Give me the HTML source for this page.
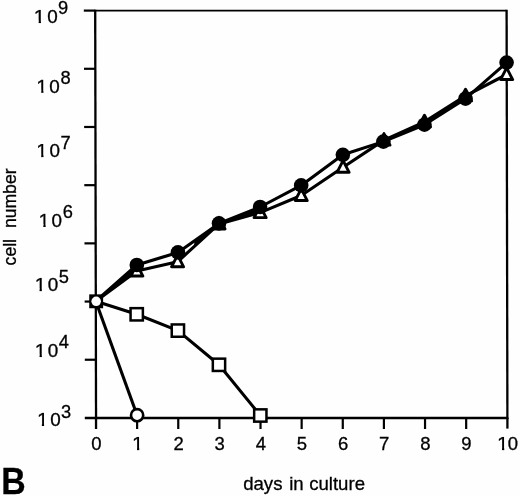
<!DOCTYPE html>
<html><head><meta charset="utf-8"><title>B</title>
<style>html,body{margin:0;padding:0;background:#fff;}body{width:520px;height:496px;overflow:hidden;}svg{display:block;filter:grayscale(1) blur(0.35px);}text{font-family:"Liberation Sans",sans-serif;fill:#000;stroke:#000;stroke-width:0.3px;}</style>
</head><body>
<svg width="520" height="496" viewBox="0 0 520 496">
<rect x="0" y="0" width="520" height="496" fill="#fefefe"/>
<g stroke="#000" fill="none" stroke-linecap="butt">
<path d="M95.2 10.6 H506.6" stroke-width="1.9"/>
<path d="M506.6 9.65 L507.4 419.1" stroke-width="2.3"/>
<path d="M95.2 9.65 L96.05 429" stroke-width="2.3"/>
<path d="M84.8 418 H508.2" stroke-width="2.3"/>
<path d="M83.80 10.60 H95.19" stroke-width="2.2"/>
<path d="M83.97 68.79 H95.30" stroke-width="2.2"/>
<path d="M84.13 126.98 H95.42" stroke-width="2.2"/>
<path d="M84.30 185.17 H95.53" stroke-width="2.2"/>
<path d="M84.47 243.36 H95.65" stroke-width="2.2"/>
<path d="M84.63 301.55 H95.77" stroke-width="2.2"/>
<path d="M84.80 359.74 H95.88" stroke-width="2.2"/>
<path d="M137.13 418 V429" stroke-width="2.2"/>
<path d="M178.26 418 V429" stroke-width="2.2"/>
<path d="M219.39 418 V429" stroke-width="2.2"/>
<path d="M260.52 418 V429" stroke-width="2.2"/>
<path d="M301.65 418 V429" stroke-width="2.2"/>
<path d="M342.78 418 V429" stroke-width="2.2"/>
<path d="M383.91 418 V429" stroke-width="2.2"/>
<path d="M425.04 418 V429" stroke-width="2.2"/>
<path d="M466.17 418 V429" stroke-width="2.2"/>
<path d="M507.4 418 V428.6" stroke-width="2.3"/>
</g>
<polyline points="95.77,301.20 136.72,314.30 177.89,330.60 218.98,364.80 260.31,415.50" fill="none" stroke="#000" stroke-width="3.1" stroke-linejoin="round"/>
<polyline points="95.77,301.20 137.12,415.20" fill="none" stroke="#000" stroke-width="3.1" stroke-linejoin="round"/>
<polyline points="95.77,301.20 136.85,271.00 177.56,261.75 219.01,223.90 260.12,212.60 301.22,195.50 343.09,167.25 383.97,140.10 424.46,121.80 465.54,95.80 506.63,74.50" fill="none" stroke="#000" stroke-width="3.1" stroke-linejoin="round"/>
<polyline points="95.77,301.20 136.82,265.00 177.93,252.40 219.00,223.40 260.10,207.00 301.18,185.40 342.85,154.80 383.36,141.60 424.45,124.70 465.53,98.60 506.59,62.60" fill="none" stroke="#000" stroke-width="3.1" stroke-linejoin="round"/>
<polygon points="96.00,301.20 136.82,265.00 136.85,271.00" fill="#000"/>
<polygon points="219.00,223.40 260.10,207.00 260.12,212.60 219.01,223.90" fill="#000"/>
<polygon points="383.36,141.60 424.45,124.70 424.46,121.80 383.97,140.10" fill="#000"/>
<polygon points="424.45,124.70 465.53,98.60 465.54,95.80 424.46,121.80" fill="#000"/>
<polygon points="194.36,240.80 219.00,223.40 219.01,223.90 194.14,246.61" fill="#000"/>
<rect x="89.22" y="294.35" width="13.9" height="13.9" fill="#000"/>
<rect x="130.57" y="308.15" width="12.3" height="12.3" fill="#fff" stroke="#000" stroke-width="2.5"/>
<rect x="171.74" y="324.45" width="12.3" height="12.3" fill="#fff" stroke="#000" stroke-width="2.5"/>
<rect x="212.83" y="358.65" width="12.3" height="12.3" fill="#fff" stroke="#000" stroke-width="2.5"/>
<rect x="254.16" y="409.35" width="12.3" height="12.3" fill="#fff" stroke="#000" stroke-width="2.5"/>
<path d="M136.85 264.45 L142.90 276.05 L130.80 276.05 Z" fill="#fff" stroke="#000" stroke-width="2.9" stroke-linejoin="round"/>
<path d="M177.56 255.20 L183.61 266.80 L171.51 266.80 Z" fill="#fff" stroke="#000" stroke-width="2.9" stroke-linejoin="round"/>
<path d="M219.01 217.35 L225.06 228.95 L212.96 228.95 Z" fill="#fff" stroke="#000" stroke-width="2.9" stroke-linejoin="round"/>
<path d="M260.12 206.05 L266.17 217.65 L254.07 217.65 Z" fill="#fff" stroke="#000" stroke-width="2.9" stroke-linejoin="round"/>
<path d="M301.22 188.95 L307.27 200.55 L295.17 200.55 Z" fill="#fff" stroke="#000" stroke-width="2.9" stroke-linejoin="round"/>
<path d="M343.09 160.70 L349.14 172.30 L337.04 172.30 Z" fill="#fff" stroke="#000" stroke-width="2.9" stroke-linejoin="round"/>
<path d="M383.97 133.55 L390.02 145.15 L377.92 145.15 Z" fill="#fff" stroke="#000" stroke-width="2.9" stroke-linejoin="round"/>
<path d="M424.46 115.25 L430.51 126.85 L418.41 126.85 Z" fill="#fff" stroke="#000" stroke-width="2.9" stroke-linejoin="round"/>
<path d="M465.54 89.25 L471.59 100.85 L459.49 100.85 Z" fill="#fff" stroke="#000" stroke-width="2.9" stroke-linejoin="round"/>
<path d="M506.63 67.95 L512.68 79.55 L500.58 79.55 Z" fill="#fff" stroke="#000" stroke-width="2.9" stroke-linejoin="round"/>
<circle cx="136.82" cy="265.00" r="7.3" fill="#000"/>
<circle cx="177.93" cy="252.40" r="7.3" fill="#000"/>
<circle cx="219.00" cy="223.40" r="7.3" fill="#000"/>
<circle cx="260.10" cy="207.00" r="7.3" fill="#000"/>
<circle cx="301.18" cy="185.40" r="7.3" fill="#000"/>
<circle cx="342.85" cy="154.80" r="7.3" fill="#000"/>
<circle cx="383.36" cy="141.60" r="7.3" fill="#000"/>
<circle cx="424.45" cy="124.70" r="7.3" fill="#000"/>
<circle cx="465.53" cy="98.60" r="7.3" fill="#000"/>
<circle cx="506.59" cy="62.60" r="7.3" fill="#000"/>
<circle cx="96.17" cy="301.30" r="4.75" fill="#fff"/>
<circle cx="137.12" cy="415.20" r="6.1" fill="#fff" stroke="#000" stroke-width="2.6"/>
<clipPath id="c66"><polygon points="0.89,-13.40 6.43,-13.40 6.43,0.27 4.44,0.27 4.44,-2.68 0.89,-2.68"/></clipPath>
<g transform="translate(33.74 23.10) scale(1.12 1)" clip-path="url(#c66)"><text x="0" y="0" font-size="18.3">1</text></g>
<text transform="translate(47.26 23.10) scale(1.03 1)" font-size="18.3">0</text>
<text x="57.99" y="13.70" font-size="18.3">9</text>
<clipPath id="c70"><polygon points="0.89,-13.40 6.43,-13.40 6.43,0.27 4.44,0.27 4.44,-2.68 0.89,-2.68"/></clipPath>
<g transform="translate(36.24 92.50) scale(1.12 1)" clip-path="url(#c70)"><text x="0" y="0" font-size="18.3">1</text></g>
<text transform="translate(49.36 92.50) scale(1.03 1)" font-size="18.3">0</text>
<text x="60.55" y="83.70" font-size="18.3">8</text>
<clipPath id="c74"><polygon points="0.89,-13.40 6.43,-13.40 6.43,0.27 4.44,0.27 4.44,-2.68 0.89,-2.68"/></clipPath>
<g transform="translate(36.24 157.30) scale(1.12 1)" clip-path="url(#c74)"><text x="0" y="0" font-size="18.3">1</text></g>
<text transform="translate(49.61 157.30) scale(1.03 1)" font-size="18.3">0</text>
<text x="60.41" y="148.90" font-size="18.3">7</text>
<clipPath id="c78"><polygon points="0.89,-13.40 6.43,-13.40 6.43,0.27 4.44,0.27 4.44,-2.68 0.89,-2.68"/></clipPath>
<g transform="translate(38.39 226.70) scale(1.12 1)" clip-path="url(#c78)"><text x="0" y="0" font-size="18.3">1</text></g>
<text transform="translate(51.61 226.70) scale(1.03 1)" font-size="18.3">0</text>
<text x="62.67" y="218.00" font-size="18.3">6</text>
<clipPath id="c82"><polygon points="0.89,-13.40 6.43,-13.40 6.43,0.27 4.44,0.27 4.44,-2.68 0.89,-2.68"/></clipPath>
<g transform="translate(34.64 291.20) scale(1.12 1)" clip-path="url(#c82)"><text x="0" y="0" font-size="18.3">1</text></g>
<text transform="translate(47.86 291.20) scale(1.03 1)" font-size="18.3">0</text>
<text x="58.77" y="283.30" font-size="18.3">5</text>
<clipPath id="c86"><polygon points="0.89,-13.40 6.43,-13.40 6.43,0.27 4.44,0.27 4.44,-2.68 0.89,-2.68"/></clipPath>
<g transform="translate(34.64 357.10) scale(1.12 1)" clip-path="url(#c86)"><text x="0" y="0" font-size="18.3">1</text></g>
<text transform="translate(47.86 357.10) scale(1.03 1)" font-size="18.3">0</text>
<text x="58.68" y="348.30" font-size="18.3">4</text>
<clipPath id="c90"><polygon points="0.89,-13.40 6.43,-13.40 6.43,0.27 4.44,0.27 4.44,-2.68 0.89,-2.68"/></clipPath>
<g transform="translate(36.89 425.80) scale(1.12 1)" clip-path="url(#c90)"><text x="0" y="0" font-size="18.3">1</text></g>
<text transform="translate(50.36 425.80) scale(1.03 1)" font-size="18.3">0</text>
<text x="60.90" y="417.50" font-size="18.3">3</text>
<text x="96.30" y="450.2" font-size="18.5" text-anchor="middle">0</text>
<clipPath id="c95"><polygon points="0.90,-13.55 6.50,-13.55 6.50,0.27 4.49,0.27 4.49,-2.71 0.90,-2.71"/></clipPath>
<g transform="translate(132.00 450.20) scale(1.12 1)" clip-path="url(#c95)"><text x="0" y="0" font-size="18.5">1</text></g>
<text x="178.56" y="450.2" font-size="18.5" text-anchor="middle">2</text>
<text x="219.69" y="450.2" font-size="18.5" text-anchor="middle">3</text>
<text x="260.82" y="450.2" font-size="18.5" text-anchor="middle">4</text>
<text x="301.95" y="450.2" font-size="18.5" text-anchor="middle">5</text>
<text x="343.08" y="450.2" font-size="18.5" text-anchor="middle">6</text>
<text x="384.21" y="450.2" font-size="18.5" text-anchor="middle">7</text>
<text x="425.34" y="450.2" font-size="18.5" text-anchor="middle">8</text>
<text x="466.47" y="450.2" font-size="18.5" text-anchor="middle">9</text>
<clipPath id="c105"><polygon points="0.90,-13.55 6.50,-13.55 6.50,0.27 4.49,0.27 4.49,-2.71 0.90,-2.71"/></clipPath>
<g transform="translate(496.97 450.20) scale(1.12 1)" clip-path="url(#c105)"><text x="0" y="0" font-size="18.5">1</text></g>
<text x="507.78" y="450.20" font-size="18.5">0</text>
<text x="243.2" y="490.1" font-size="18.6" stroke-width="0.2">days</text>
<text x="289.2" y="490.1" font-size="18.6" stroke-width="0.2">in</text>
<text x="309.2" y="490.1" font-size="18.6" stroke-width="0.2">culture</text>
<text transform="translate(16.2 265.4) rotate(-90)" font-size="17.6" word-spacing="6" stroke-width="0.25">cell number</text>
<text transform="translate(1.2 494.3) scale(0.913 1)" font-size="37.1" font-weight="bold" stroke="none">B</text>
</svg>
</body></html>
